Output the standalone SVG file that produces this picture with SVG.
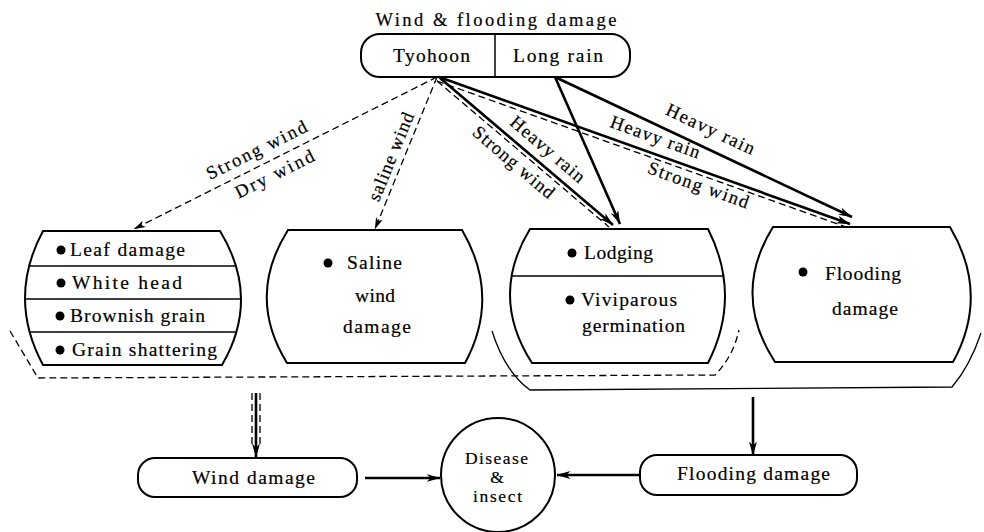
<svg xmlns="http://www.w3.org/2000/svg" width="984" height="532" viewBox="0 0 984 532">
<defs>
<style>
text{font-family:"Liberation Serif","Times New Roman",serif;font-size:19.5px;fill:#000;stroke:#000;stroke-width:0.2}
.lbl{font-size:18.5px}
.sm{font-size:17.5px}
.shape{fill:#fff;stroke:#000;stroke-width:2}
.div{stroke:#000;stroke-width:1.5}
.thick{stroke:#000;stroke-width:2.6;fill:none}
.dash{stroke:#000;stroke-width:1.3;fill:none;stroke-dasharray:7 4}
.br{fill:none;stroke:#000;stroke-width:1.3}
.bul{fill:#000}
</style>
<marker id="ah" viewBox="0 0 14 8" refX="13.5" refY="4" markerWidth="14" markerHeight="8" markerUnits="userSpaceOnUse" orient="auto"><path d="M0,0 L14,4 L0,8 L4,4 Z" fill="#000"/></marker>
<marker id="ahs" viewBox="0 0 12 7" refX="11.5" refY="3.5" markerWidth="12" markerHeight="7" markerUnits="userSpaceOnUse" orient="auto"><path d="M0,0 L12,3.5 L0,7 L3,3.5 Z" fill="#000"/></marker>
</defs>

<text class="lbl" x="496" y="26" text-anchor="middle" textLength="241">Wind &amp; flooding damage</text>

<g id="connectors">
  <path class="br" d="M10,331 L38,378 L715,375 Q733,357 739,330" stroke-dasharray="7 4"/>
  <path class="br" d="M492,331 Q505,372 530,390 L952,387 Q970,366 981,333"/>
  <line class="dash" x1="437" y1="77" x2="134" y2="229" marker-end="url(#ahs)"/>
  <line class="dash" x1="437" y1="77" x2="375" y2="229" marker-end="url(#ahs)"/>
  <line class="thick" x1="440" y1="78" x2="613" y2="225" marker-end="url(#ah)"/>
  <line class="dash" x1="437" y1="81" x2="609" y2="227"/>
  <line class="thick" x1="555" y1="77" x2="620" y2="224" marker-end="url(#ah)"/>
  <line class="thick" x1="439" y1="77" x2="850" y2="224" marker-end="url(#ah)"/>
  <line class="dash" x1="437" y1="81" x2="846" y2="227"/>
  <line class="thick" x1="555" y1="77" x2="852" y2="217" marker-end="url(#ah)"/>
  <line class="thick" x1="256" y1="393" x2="256" y2="457" marker-end="url(#ah)"/>
  <line class="dash" x1="252" y1="393" x2="252" y2="448" stroke-width="1"/>
  <line class="dash" x1="260" y1="393" x2="260" y2="448" stroke-width="1"/>
  <line class="thick" x1="753" y1="397" x2="753" y2="455" marker-end="url(#ah)"/>
  <line class="thick" x1="365" y1="478" x2="440" y2="478" marker-end="url(#ah)"/>
  <line class="thick" x1="640" y1="475" x2="557" y2="475" marker-end="url(#ah)"/>
  <text class="lbl" transform="translate(257,151) rotate(-26.6)" y="5" text-anchor="middle" textLength="110">Strong wind</text>
  <text class="lbl" transform="translate(275,175) rotate(-26.6)" y="5" text-anchor="middle" textLength="86">Dry wind</text>
  <text class="lbl" transform="translate(392,157) rotate(-67.8)" y="5" text-anchor="middle" textLength="94">saline wind</text>
  <text class="lbl" transform="translate(547,150) rotate(40.4)" y="5" text-anchor="middle" textLength="92">Heavy rain</text>
  <text class="lbl" transform="translate(513,163) rotate(40.4)" y="5" text-anchor="middle" textLength="101">Strong wind</text>
  <text class="lbl" transform="translate(655,138) rotate(19.7)" y="5" text-anchor="middle" textLength="94">Heavy rain</text>
  <text class="lbl" transform="translate(698,186) rotate(19.7)" y="5" text-anchor="middle" textLength="106">Strong wind</text>
  <text class="lbl" transform="translate(710,130) rotate(25.2)" y="5" text-anchor="middle" textLength="96">Heavy rain</text>
</g>

<g id="source">
  <rect class="shape" x="361" y="34" width="269" height="43" rx="19"/>
  <line class="div" x1="495" y1="34" x2="495" y2="77"/>
  <text x="393" y="62" textLength="77">Tyohoon</text>
  <text x="513" y="62" textLength="90">Long rain</text>
</g>

<g id="node-wind-symptoms">
  <path class="shape" d="M43,231 L220,231 Q261,298 222,365 L43,365 Q7,298 43,231 Z"/>
  <line class="div" x1="29" y1="266" x2="236" y2="266"/>
  <line class="div" x1="25" y1="299" x2="241" y2="299"/>
  <line class="div" x1="30" y1="332" x2="236" y2="332"/>
  <circle class="bul" cx="61" cy="250" r="4.5"/>
  <text x="70" y="256" textLength="115">Leaf damage</text>
  <circle class="bul" cx="61" cy="283" r="4.5"/>
  <text x="72" y="289" textLength="110">White  head</text>
  <circle class="bul" cx="60" cy="316" r="4.5"/>
  <text x="70" y="322" textLength="135">Brownish grain</text>
  <circle class="bul" cx="60" cy="350" r="4.5"/>
  <text x="72" y="356" textLength="145">Grain shattering</text>
</g>

<g id="node-saline">
  <path class="shape" d="M288,230 L462,230 Q501,296.5 465,363 L287,363 Q246,296.5 288,230 Z"/>
  <circle class="bul" cx="328" cy="263" r="4.5"/>
  <text x="347" y="269" textLength="55">Saline</text>
  <text x="355" y="302" textLength="40">wind</text>
  <text x="343" y="333" textLength="68">damage</text>
</g>

<g id="node-lodging">
  <path class="shape" d="M530,229 L708,229 Q742,296 708,363 L532,363 Q489,296 530,229 Z"/>
  <line class="div" x1="512" y1="276" x2="723" y2="276"/>
  <circle class="bul" cx="572" cy="253" r="4.5"/>
  <text x="584" y="259" textLength="69">Lodging</text>
  <circle class="bul" cx="570" cy="300" r="4.5"/>
  <text x="581" y="306" textLength="96">Viviparous</text>
  <text x="582" y="332" textLength="103">germination</text>
</g>

<g id="node-flooding">
  <path class="shape" d="M773,227 L950,227 Q990,294.5 953,362 L775,362 Q731,294.5 773,227 Z"/>
  <circle class="bul" cx="803" cy="272" r="4.5"/>
  <text x="825" y="280" textLength="76">Flooding</text>
  <text x="832" y="315" textLength="66">damage</text>
</g>

<g id="wind-damage">
  <rect class="shape" x="138" y="458" width="219" height="39" rx="17"/>
  <text x="192" y="484" textLength="123">Wind damage</text>
</g>

<g id="flooding-damage">
  <rect class="shape" x="640" y="455" width="217" height="40" rx="17"/>
  <text x="677" y="480" textLength="153">Flooding damage</text>
</g>

<g id="disease">
  <circle class="shape" cx="498" cy="475" r="57"/>
  <text class="sm" x="465" y="464" textLength="63">Disease</text>
  <text class="sm" x="497" y="483" text-anchor="middle">&amp;</text>
  <text class="sm" x="473" y="502" textLength="49">insect</text>
</g>
</svg>
